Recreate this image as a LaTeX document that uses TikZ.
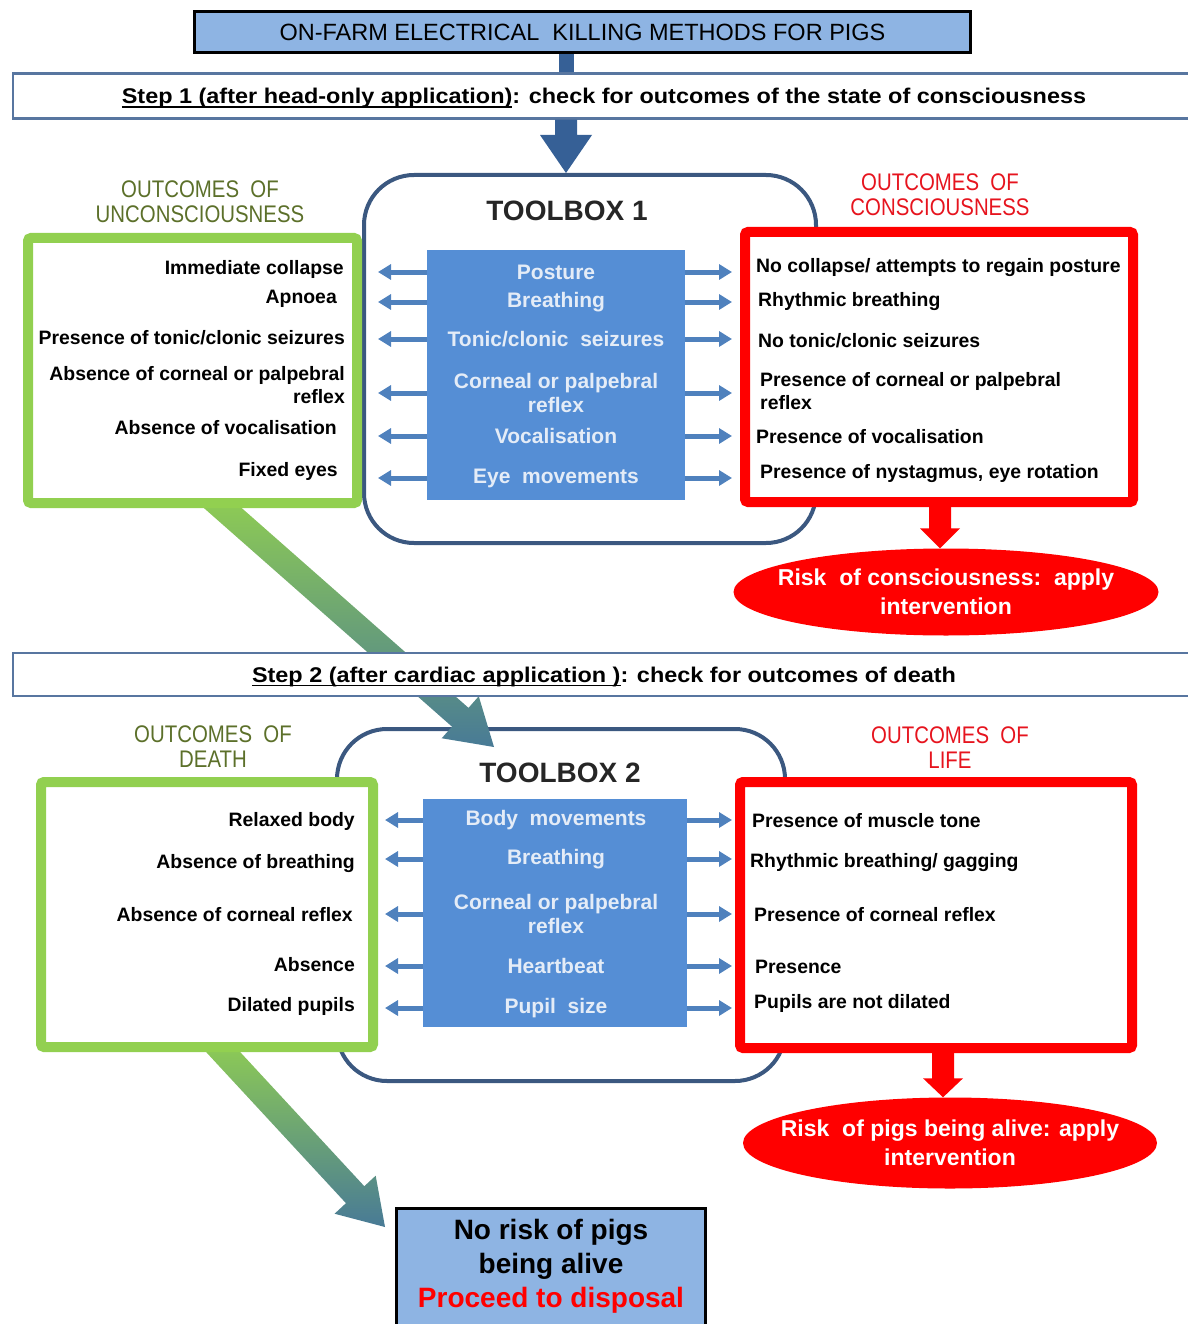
\documentclass[tikz,border=0pt]{standalone}
\usepackage{fontspec}
\setmainfont{Liberation Sans}
\newfontfamily\narrowfont{Liberation Sans}[FakeStretch=0.85]
\newfontfamily\widefont{Liberation Sans}[FakeStretch=1.1]
\usetikzlibrary{shapes.geometric,arrows.meta,calc,positioning}

\definecolor{titleblue}{RGB}{142,180,227}
\definecolor{stepline}{RGB}{88,118,160}
\definecolor{boxline}{RGB}{59,88,128}
\definecolor{innerblue}{RGB}{85,142,213}
\definecolor{innertext}{RGB}{228,236,247}
\definecolor{arrowblue}{RGB}{79,129,189}
\definecolor{bigblue}{RGB}{54,96,150}
\definecolor{ogreen}{RGB}{146,208,80}
\definecolor{olive}{RGB}{92,112,42}
\definecolor{headred}{RGB}{230,20,30}
\definecolor{steel}{RGB}{72,122,150}

% underline for the step titles
\newcommand{\stepul}[1]{\setbox0\hbox{#1}\rlap{\rule[-4pt]{\wd0}{1.6pt}}\box0}

% thick block arrow: style, from, to, shaft half width, head half width, head length
\newcommand{\fatarrow}[6]{%
  \coordinate (fatneck) at ($(#3)!#6!(#2)$);
  \path[#1] ($(#2)!#4!90:(#3)$) -- ($(fatneck)!#4!-90:(#2)$) -- ($(fatneck)!#5!-90:(#2)$) -- (#3)
    -- ($(fatneck)!#5!90:(#2)$) -- ($(fatneck)!#4!90:(#2)$) -- ($(#2)!#4!-90:(#3)$) -- cycle;
}

\tikzset{
  titlebox/.style={draw=black, line width=3pt, fill=titleblue, minimum width=776pt, minimum height=41pt,
    font=\fontsize{23.5}{26}\selectfont},
  stepbox/.style={draw=stepline, line width=2.5pt, fill=white, minimum width=1182pt, minimum height=45pt,
    text depth=0pt, font=\widefont\bfseries\fontsize{21.3}{25}\selectfont},
  toolbox/.style={draw=boxline, line width=4pt, rounded corners=50pt},
  toolhead/.style={text=black!85, font=\bfseries\fontsize{28}{32}\selectfont},
  innerbox/.style={fill=innerblue},
  inneritem/.style={text=innertext, align=center, inner sep=0pt, font=\bfseries\fontsize{21}{24}\selectfont},
  goodbox/.style={draw=ogreen, line width=10pt, fill=white, rounded corners=3pt},
  badbox/.style={draw=red, line width=10pt, fill=white, rounded corners=3pt},
  goodhead/.style={text=olive, align=center, font=\narrowfont\fontsize{24}{25}\selectfont},
  badhead/.style={text=headred, align=center, font=\narrowfont\fontsize{24}{25}\selectfont},
  leftitem/.style={anchor=east, align=right, inner sep=0pt, font=\bfseries\fontsize{19.4}{23}\selectfont},
  rightitem/.style={anchor=west, align=left, inner sep=0pt, font=\bfseries\fontsize{19.4}{23}\selectfont},
  sidearrow/.style={draw=arrowblue, line width=5pt, -{Triangle[width=15pt,length=13pt]}},
  riskoval/.style={ellipse, fill=red},
  risktext/.style={text=white, align=center, font=\bfseries\fontsize{23}{29}\selectfont},
  finalbox/.style={draw=black, line width=3pt, fill=titleblue},
  finaltext/.style={align=center, font=\bfseries\fontsize{28}{34}\selectfont}
}

\begin{document}
\begin{tikzpicture}[x=1pt,y=-1pt]
\useasboundingbox (0,0) rectangle (1187,1324);

% toolboxes
\node[toolbox, minimum width=452pt, minimum height=368pt] (tb1) at (590,359) {};
\node[toolbox, minimum width=448pt, minimum height=352pt] (tb2) at (561,905) {};
\node[toolhead] (tb1head) at (567,211) {TOOLBOX 1};
\node[toolhead] (tb2head) at (560,773) {TOOLBOX 2};

% green arrows (drawn first, boxes cover their tails)
\coordinate (g1s) at (208,495);
\coordinate (g1e) at (494,747);
\fatarrow{top color=ogreen, middle color=ogreen!75!steel, bottom color=steel}{g1s}{g1e}{12.5pt}{28pt}{45pt}
\coordinate (g2s) at (212,1040);
\coordinate (g2e) at (385,1227);
\fatarrow{top color=ogreen, middle color=ogreen!75!steel, bottom color=steel}{g2s}{g2e}{12.5pt}{28pt}{44pt}

% title and step 1
\node[titlebox] (title) at (582.5,32) {ON-FARM ELECTRICAL\ \ KILLING METHODS FOR PIGS};
\node[stepbox] (step1) at (604,96) {\stepul{Step 1 (after head-only application)}: check for outcomes of the state of consciousness};
\coordinate (spine) at (566,0);
\draw[bigblue, line width=15pt] (title.south -| spine) -- (step1.north -| spine);
\coordinate (s1foot) at (step1.south -| spine);
\coordinate (tb1top) at (tb1.north -| spine);
\fatarrow{fill=bigblue}{s1foot}{tb1top}{11pt}{26pt}{38pt}

% outcome boxes, step 1
\node[goodbox, minimum width=329pt, minimum height=265pt] (unc) at (192.5,370.5) {};
\node[badbox, minimum width=388pt, minimum height=270pt] (con) at (939,367) {};
\node[goodhead] (unchead) at (200,202) {OUTCOMES\ \ OF\\UNCONSCIOUSNESS};
\node[badhead] (conhead) at (940,195) {OUTCOMES\ \ OF\\CONSCIOUSNESS};

\node[leftitem] (lu1) at (344,269) {Immediate collapse};
\node[leftitem] (lu2) at (337,299) {Apnoea};
\node[leftitem] (lu3) at (345,338) {Presence of tonic/clonic seizures};
\node[leftitem] (lu4) at (345,385) {Absence of corneal or palpebral\\reflex};
\node[leftitem] (lu5) at (337,428) {Absence of vocalisation};
\node[leftitem] (lu6) at (338,471) {Fixed eyes};

\node[rightitem] (rc1) at (756,268) {No collapse/ attempts to regain posture};
\node[rightitem] (rc2) at (758,302) {Rhythmic breathing};
\node[rightitem] (rc3) at (758,341) {No tonic/clonic seizures};
\node[rightitem] (rc4) at (760,391) {Presence of corneal or palpebral\\reflex};
\node[rightitem] (rc5) at (756,437) {Presence of vocalisation};
\node[rightitem] (rc6) at (760,474) {Presence of nystagmus, eye rotation};

% toolbox 1 content
\node[innerbox, minimum width=258pt, minimum height=250pt] (in1) at (556,375) {};
\node[inneritem] (p1) at (556,272) {Posture};
\node[inneritem] (p2) at (556,302) {Breathing};
\node[inneritem] (p3) at (556,339) {Tonic/clonic\ \ seizures};
\node[inneritem] (p4) at (556,393) {Corneal or palpebral\\reflex};
\node[inneritem] (p5) at (556,436) {Vocalisation};
\node[inneritem] (p6) at (556,478) {Eye\ \ movements};

\draw[sidearrow, shorten >=16pt] (p1 -| in1.west) -- (p1 -| unc.east);
\draw[sidearrow, shorten >=16pt] (p2 -| in1.west) -- (p2 -| unc.east);
\draw[sidearrow, shorten >=16pt] (p3 -| in1.west) -- (p3 -| unc.east);
\draw[sidearrow, shorten >=16pt] (p4 -| in1.west) -- (p4 -| unc.east);
\draw[sidearrow, shorten >=16pt] (p5 -| in1.west) -- (p5 -| unc.east);
\draw[sidearrow, shorten >=16pt] (p6 -| in1.west) -- (p6 -| unc.east);
\draw[sidearrow, shorten >=8pt] (p1 -| in1.east) -- (p1 -| con.west);
\draw[sidearrow, shorten >=8pt] (p2 -| in1.east) -- (p2 -| con.west);
\draw[sidearrow, shorten >=8pt] (p3 -| in1.east) -- (p3 -| con.west);
\draw[sidearrow, shorten >=8pt] (p4 -| in1.east) -- (p4 -| con.west);
\draw[sidearrow, shorten >=8pt] (p5 -| in1.east) -- (p5 -| con.west);
\draw[sidearrow, shorten >=8pt] (p6 -| in1.east) -- (p6 -| con.west);

% risk 1
\node[riskoval, minimum width=425pt, minimum height=87pt] (risk1) at (946,592) {};
\node[risktext] (risk1txt) at (risk1) {Risk\ \ of consciousness:\ \ apply\\intervention};
\coordinate (r1x) at (940,0);
\coordinate (c1foot) at (con.south -| r1x);
\coordinate (k1top) at (risk1.north -| r1x);
\fatarrow{fill=red}{c1foot}{k1top}{11pt}{20pt}{20pt}

% step 2
\node[stepbox, minimum height=43pt] (step2) at (604,674.5) {\stepul{Step 2 (after cardiac application )}: check for outcomes of death};

% outcome boxes, step 2
\node[goodbox, minimum width=332pt, minimum height=265pt] (death) at (207,914.5) {};
\node[badbox, minimum width=392pt, minimum height=266pt] (life) at (936,915) {};
\node[goodhead] (deathhead) at (213,747) {OUTCOMES\ \ OF\\DEATH};
\node[badhead] (lifehead) at (950,748) {OUTCOMES\ \ OF\\LIFE};

\node[leftitem] (ld1) at (355,821) {Relaxed body};
\node[leftitem] (ld2) at (355,864) {Absence of breathing};
\node[leftitem] (ld3) at (353,915) {Absence of corneal reflex};
\node[leftitem] (ld4) at (355,965) {Absence};
\node[leftitem] (ld5) at (355,1006) {Dilated pupils};

\node[rightitem] (rl1) at (752,821) {Presence of muscle tone};
\node[rightitem] (rl2) at (750,863) {Rhythmic breathing/ gagging};
\node[rightitem] (rl3) at (754,915) {Presence of corneal reflex};
\node[rightitem] (rl4) at (755,967) {Presence};
\node[rightitem] (rl5) at (754,1003) {Pupils are not dilated};

% toolbox 2 content
\node[innerbox, minimum width=264pt, minimum height=228pt] (in2) at (555,913) {};
\node[inneritem] (q1) at (556,820) {Body\ \ movements};
\node[inneritem] (q2) at (556,859) {Breathing};
\node[inneritem] (q3) at (556,914) {Corneal or palpebral\\reflex};
\node[inneritem] (q4) at (556,966) {Heartbeat};
\node[inneritem] (q5) at (556,1008) {Pupil\ \ size};

\draw[sidearrow, shorten >=7pt] (q1 -| in2.west) -- (q1 -| death.east);
\draw[sidearrow, shorten >=7pt] (q2 -| in2.west) -- (q2 -| death.east);
\draw[sidearrow, shorten >=7pt] (q3 -| in2.west) -- (q3 -| death.east);
\draw[sidearrow, shorten >=7pt] (q4 -| in2.west) -- (q4 -| death.east);
\draw[sidearrow, shorten >=7pt] (q5 -| in2.west) -- (q5 -| death.east);
\draw[sidearrow, shorten >=3pt] (q1 -| in2.east) -- (q1 -| life.west);
\draw[sidearrow, shorten >=3pt] (q2 -| in2.east) -- (q2 -| life.west);
\draw[sidearrow, shorten >=3pt] (q3 -| in2.east) -- (q3 -| life.west);
\draw[sidearrow, shorten >=3pt] (q4 -| in2.east) -- (q4 -| life.west);
\draw[sidearrow, shorten >=3pt] (q5 -| in2.east) -- (q5 -| life.west);

% risk 2
\node[riskoval, minimum width=414pt, minimum height=91pt] (risk2) at (950,1143) {};
\node[risktext] (risk2txt) at (risk2) {Risk\ \ of pigs being alive: apply\\intervention};
\coordinate (r2x) at (943,0);
\coordinate (l2foot) at (life.south -| r2x);
\coordinate (k2top) at (risk2.north -| r2x);
\fatarrow{fill=red}{l2foot}{k2top}{11pt}{20pt}{19pt}

% disposal
\node[finalbox, anchor=north, minimum width=309pt, minimum height=140pt] (safe) at (551,1206.5) {};
\node[finaltext] (safetxt) at (551,1266) {No risk of pigs\\being alive\\\textcolor{red}{Proceed to disposal}};

\end{tikzpicture}
\end{document}
